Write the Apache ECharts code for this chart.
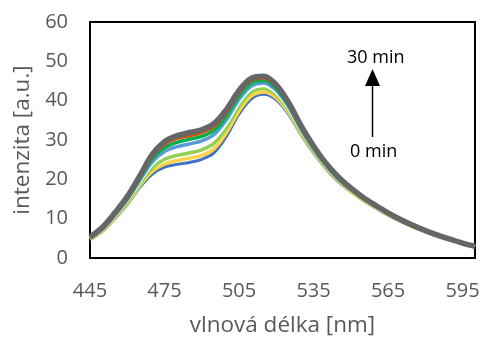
<!DOCTYPE html>
<html>
<head>
<meta charset="utf-8">
<script src="https://cdn.jsdelivr.net/npm/echarts@6/dist/echarts.min.js"></script>
<style>
  html, body { margin: 0; padding: 0; background: #fff; }
  #chart { width: 481px; height: 340px; }
</style>
</head>
<body>
<div id="chart"></div>
<script>
// Emission spectra recorded every few minutes (0 min -> 30 min)
const wavelengths = [445, 450, 455, 460, 465, 470, 475, 480, 485, 490, 495, 500, 505, 510, 515, 520,
  525, 530, 535, 540, 545, 550, 555, 560, 565, 570, 575, 580, 585, 590, 595, 600];
const xTickLabels = [445, 475, 505, 535, 565, 595];

const spec0 = [4.7, 6.8, 10.0, 13.6, 17.9, 21.3, 23.1, 23.8, 24.3, 25.1, 26.8, 31.0, 36.6, 40.5, 41.6, 40.2,
  36.5, 31.3, 26.7, 22.7, 19.4, 16.8, 14.6, 12.7, 10.9, 9.3, 7.9, 6.6, 5.5, 4.5, 3.6, 2.8];
const spec1 = [4.8, 6.9, 10.2, 13.8, 18.3, 22.0, 23.9, 24.8, 25.4, 26.1, 27.8, 31.9, 37.4, 41.2, 42.2, 40.7,
  36.9, 31.6, 27.0, 22.9, 19.6, 16.9, 14.7, 12.8, 11.0, 9.4, 7.9, 6.7, 5.5, 4.5, 3.6, 2.8];
const spec2 = [4.9, 7.1, 10.5, 14.1, 18.8, 22.9, 25.1, 26.1, 26.7, 27.5, 29.2, 33.2, 38.5, 42.2, 43.1, 41.4,
  37.5, 32.0, 27.3, 23.1, 19.8, 17.1, 14.9, 12.9, 11.1, 9.5, 8.0, 6.7, 5.6, 4.6, 3.7, 2.9];
const spec3 = [5.0, 7.3, 10.7, 14.5, 19.2, 23.7, 26.2, 27.3, 27.9, 28.7, 30.4, 34.3, 39.5, 43.0, 43.8, 42.0,
  37.9, 32.4, 27.6, 23.4, 20.0, 17.3, 15.0, 13.0, 11.2, 9.5, 8.1, 6.8, 5.6, 4.6, 3.7, 2.9];
const spec4 = [5.1, 7.4, 10.9, 14.8, 19.7, 24.4, 27.1, 28.3, 29.0, 29.8, 31.4, 35.2, 40.3, 43.7, 44.5, 42.6,
  38.4, 32.7, 27.8, 23.6, 20.1, 17.4, 15.1, 13.1, 11.3, 9.6, 8.1, 6.8, 5.7, 4.7, 3.7, 2.9];
const spec5 = [5.2, 7.6, 11.2, 15.1, 20.1, 25.2, 28.1, 29.4, 30.2, 30.9, 32.5, 36.2, 41.2, 44.5, 45.1, 43.1,
  38.8, 33.1, 28.1, 23.8, 20.3, 17.6, 15.2, 13.2, 11.4, 9.7, 8.2, 6.9, 5.7, 4.7, 3.8, 3.0];
const spec6 = [5.2, 7.7, 11.3, 15.4, 20.5, 25.8, 28.9, 30.4, 31.1, 31.9, 33.5, 37.1, 42.0, 45.2, 45.7, 43.6,
  39.2, 33.4, 28.3, 24.0, 20.5, 17.7, 15.3, 13.3, 11.4, 9.8, 8.3, 7.0, 5.8, 4.8, 3.8, 3.0];
const spec7 = [5.3, 7.8, 11.5, 15.6, 20.8, 26.3, 29.6, 31.1, 31.9, 32.6, 34.2, 37.8, 42.6, 45.7, 46.2, 44.0,
  39.5, 33.6, 28.5, 24.1, 20.6, 17.8, 15.4, 13.4, 11.5, 9.8, 8.3, 7.0, 5.8, 4.8, 3.8, 3.0];

const seriesDefs = [
  { name: '0 min', data: spec0, color: '#4472C4', width: 3 },
  { name: '5 min', data: spec1, color: '#FFD34E', width: 3.5 },
  { name: '10 min', data: spec2, color: '#92D050', width: 3.5 },
  { name: '15 min', data: spec3, color: '#FFFFFF', width: 3 },
  { name: '20 min', data: spec4, color: '#5B9BD5', width: 3.5 },
  { name: '25 min', data: spec5, color: '#00B050', width: 3.5 },
  { name: '28 min', data: spec6, color: '#C55A11', width: 3.5 },
  { name: '30 min', data: spec7, color: '#666666', width: 5.5 }
];

const FONT = 'Open Sans';
const chart = echarts.init(document.getElementById('chart'), null, { renderer: 'canvas' });

chart.setOption({
  animation: false,
  backgroundColor: '#fff',
  grid: {
    left: 90, right: 6, top: 22, bottom: 82,
    outerBoundsMode: 'none', containLabel: false,
    show: true, borderColor: '#000', borderWidth: 2, backgroundColor: 'transparent'
  },
  xAxis: {
    type: 'value', min: 445, max: 600,
    name: 'vlnová délka [nm]', nameLocation: 'middle', nameGap: 56,
    nameTextStyle: { fontFamily: FONT, fontSize: 22.5, color: '#595959' },
    axisLine: { show: false }, axisTick: { show: false }, splitLine: { show: false },
    axisLabel: { customValues: xTickLabels, margin: 23, fontFamily: FONT, fontSize: 20, color: '#595959' }
  },
  yAxis: {
    type: 'value', min: 0, max: 60, interval: 10,
    name: 'intenzita [a.u.]', nameLocation: 'middle', nameGap: 56,
    nameTextStyle: { fontFamily: FONT, fontSize: 22.5, color: '#595959' },
    axisLine: { show: false }, axisTick: { show: false }, splitLine: { show: false },
    axisLabel: { margin: 22, fontFamily: FONT, fontSize: 20, color: '#595959' }
  },
  series: seriesDefs.map(s => ({
    name: s.name, type: 'line', smooth: 0.35, showSymbol: false,
    data: wavelengths.map((w, i) => [w, s.data[i]]),
    lineStyle: { color: s.color, width: s.width },
    itemStyle: { color: s.color }
  })),
  graphic: [
    { type: 'text', left: 347, top: 49, style: { text: '30 min', fontFamily: FONT, fontSize: 18, fill: '#000' } },
    { type: 'text', left: 350, top: 143, style: { text: '0 min', fontFamily: FONT, fontSize: 18, fill: '#000' } },
    { type: 'line', shape: { x1: 372.5, y1: 137, x2: 372.5, y2: 84 }, style: { stroke: '#000', lineWidth: 1.5 } },
    { type: 'polygon', shape: { points: [[372.5, 69], [365, 86], [380, 86]] }, style: { fill: '#000' } }
  ]
});
</script>
</body>
</html>
